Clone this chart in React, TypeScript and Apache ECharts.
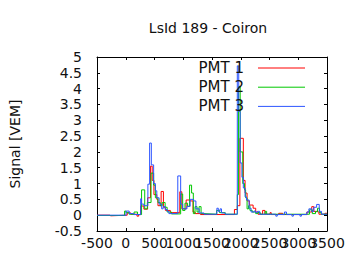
import React, { useEffect, useRef } from "react";
import * as echarts from "echarts";

const titleText = "LsId 189 - Coiron";
const yAxisName = "Signal [VEM]";
const seriesNames = ["PMT 1", "PMT 2", "PMT 3"];
const seriesColors = ["#ff0000", "#00c800", "#2d55ff"];

// PMT 1 (red): bin start times [ns] and signal [VEM]
const pmt1T = [-500, -280, -260, 25, 90, 195, 225, 260, 315, 380, 430, 460, 490, 540, 560, 615, 655, 690, 775, 940, 975, 1050, 1115, 1170, 1205, 1300, 1890, 1940, 1985, 2045, 2075, 2110, 2150, 2215, 2260, 2300, 2380, 2420, 2510, 2530, 2660, 2730, 3150, 3235, 3270, 3320, 3360, 3465, 3500];
const pmt1V = [0, -0.02, 0, 0.07, 0.03, -0.03, 0.02, 0.29, 0.19, 0.55, 1.55, 1.1, 0.65, 0.5, 0.3, 0.75, 0.25, 0.15, 0.08, 0.74, 0.2, 0.48, 0.45, 0.1, 0.05, 0.02, 0.18, 0.3, 2.43, 1.1, 0.7, 0.45, 0.32, 0.22, 0.1, 0.03, 0.15, 0.03, 0.08, 0.02, 0.06, 0.02, 0.1, 0.27, 0.12, 0.1, 0.03, 0.06, 0.06];

// PMT 2 (green)
const pmt2T = [-500, -20, 5, 60, 145, 205, 275, 330, 375, 440, 485, 515, 560, 600, 635, 685, 720, 795, 955, 990, 1030, 1075, 1110, 1145, 1175, 1205, 1240, 1275, 1310, 1360, 1580, 1630, 1730, 1940, 1960, 1990, 2035, 2065, 2085, 2110, 2135, 2160, 2200, 2260, 2300, 2340, 2425, 2450, 3195, 3245, 3300, 3335, 3370, 3400, 3500];
const pmt2V = [-0.01, 0.13, 0.08, 0.03, 0.1, 0.02, 0.8, 0.2, 0.4, 1.33, 0.95, 0.55, 0.4, 0.3, 0.4, 0.25, 0.1, 0.04, 0.67, 0.15, 0.38, 0.28, 0.95, 0.7, 0.05, 0.27, 0.1, 0.27, 0.05, 0.03, 0.15, 0.08, 0.03, 0.65, 4.07, 2.0, 1.0, 0.8, 0.55, 0.2, 0.3, 0.15, 0.1, 0.05, 0.08, 0.03, 0.12, 0.03, 0.17, 0.05, 0.11, 0.22, 0.08, 0.03, 0.03];

// PMT 3 (blue)
const pmt3T = [-500, 5, 60, 140, 260, 275, 315, 385, 415, 445, 485, 515, 540, 580, 625, 650, 685, 720, 750, 905, 955, 990, 1065, 1120, 1180, 1220, 1275, 1360, 1585, 1610, 1640, 1665, 1730, 1940, 1965, 1990, 2020, 2045, 2075, 2100, 2145, 2180, 2230, 2260, 2290, 2330, 2610, 2635, 2760, 2795, 2890, 2915, 3030, 3055, 3150, 3185, 3235, 3270, 3320, 3365, 3405, 3500];
const pmt3V = [0, 0.13, 0.05, 0.02, 0.52, 0.35, 0.3, 0.98, 2.28, 1.59, 1.0, 0.77, 0.55, 0.35, 0.2, 0.27, 0.18, 0.12, 0.05, 1.24, 0.35, 0.2, 0.28, 0.5, 0.45, 0.2, 0.07, 0.03, 0.22, 0.12, 0.2, 0.07, 0.03, 4.72, 3.28, 1.65, 1.2, 0.86, 0.58, 0.48, 0.22, 0.1, 0.13, 0.08, 0.12, 0.03, -0.03, 0.02, 0.1, 0.02, -0.03, 0.02, -0.03, 0.02, 0.1, 0.2, 0.12, 0.25, 0.34, 0.12, 0.03, 0.03];

const xMin = -500, xMax = 3500, xStep = 500;
const yMin = -0.5, yMax = 5, yStep = 0.5;

const seriesTimes = [pmt1T, pmt2T, pmt3T];
const seriesValues = [pmt1V, pmt2V, pmt3V];

const FONT = "DejaVu Sans";

export default function App() {
  const ref = useRef<HTMLDivElement>(null);
  useEffect(() => {
    if (!ref.current) return;
    document.body.style.margin = "0";
    const chart = echarts.init(ref.current, undefined, { renderer: "svg" });
    const axisCommon = {
      type: "value" as const,
      axisLine: { show: true, onZero: false, lineStyle: { color: "#000", width: 1 } },
      axisTick: { show: true, inside: true, length: 3, lineStyle: { color: "#000" } },
      splitLine: { show: false },
    };
    const xLabelStyle = { color: "#111", fontSize: 14, fontFamily: FONT, margin: 5 };
    const legendGraphics: any[] = [];
    seriesNames.forEach((name, i) => {
      const y = 68 + i * 19.2;
      legendGraphics.push({
        type: "text",
        x: 244,
        y,
        style: { text: name, fontSize: 15, fontFamily: FONT, fill: "#111", align: "right", verticalAlign: "middle" },
        z: 100,
      });
      legendGraphics.push({
        type: "line",
        shape: { x1: 258, y1: y, x2: 305, y2: y },
        style: { stroke: seriesColors[i], lineWidth: 1 },
        z: 100,
      });
    });
    chart.setOption({
      animation: false,
      backgroundColor: "#fff",
      grid: { left: 90, right: 33, top: 57, bottom: 39, containLabel: false },
      xAxis: [
        {
          ...axisCommon,
          min: xMin, max: xMax, interval: xStep, position: "bottom",
          axisLabel: {
            ...xLabelStyle,
            show: true, hideOverlap: false,
            formatter: (v: number) => (v === xMax ? "" : String(v)),
          },
        },
        {
          ...axisCommon,
          min: xMin, max: xMax, interval: xStep, position: "top",
          axisLabel: { show: false },
        },
        {
          type: "value",
          min: xMin, max: xMax, interval: xStep, position: "bottom",
          axisLine: { show: false },
          axisTick: { show: false },
          splitLine: { show: false },
          axisLabel: {
            ...xLabelStyle,
            show: true, hideOverlap: false,
            formatter: (v: number) => (v === xMax ? String(v) : ""),
          },
        },
      ],
      yAxis: [
        {
          ...axisCommon,
          min: yMin, max: yMax, interval: yStep, position: "left",
          axisLabel: {
            show: true, color: "#111", fontSize: 14, fontFamily: FONT, margin: 15,
            showMinLabel: true, showMaxLabel: true,
            formatter: (v: number) => String(v),
          },
          name: yAxisName,
          nameLocation: "middle",
          nameGap: 75,
          nameTextStyle: { color: "#111", fontSize: 14, fontFamily: FONT },
        },
        {
          ...axisCommon,
          min: yMin, max: yMax, interval: yStep, position: "right",
          axisLabel: { show: false },
        },
      ],
      graphic: [
        {
          type: "text",
          x: 208,
          y: 28,
          style: { text: titleText, fontSize: 14, fontFamily: FONT, fill: "#111", align: "center", verticalAlign: "middle" },
        },
        ...legendGraphics,
      ],
      series: seriesNames.map((name, i) => ({
        name,
        type: "line",
        step: "end",
        xAxisIndex: 0,
        yAxisIndex: 0,
        symbol: "none",
        showSymbol: false,
        lineStyle: { color: seriesColors[i], width: 1 },
        itemStyle: { color: seriesColors[i] },
        data: seriesTimes[i].map((t, k) => [t, seriesValues[i][k]]),
        z: 2 + i,
      })),
    });
    return () => chart.dispose();
  }, []);
  return <div ref={ref} style={{ width: 360, height: 270 }} />;
}
